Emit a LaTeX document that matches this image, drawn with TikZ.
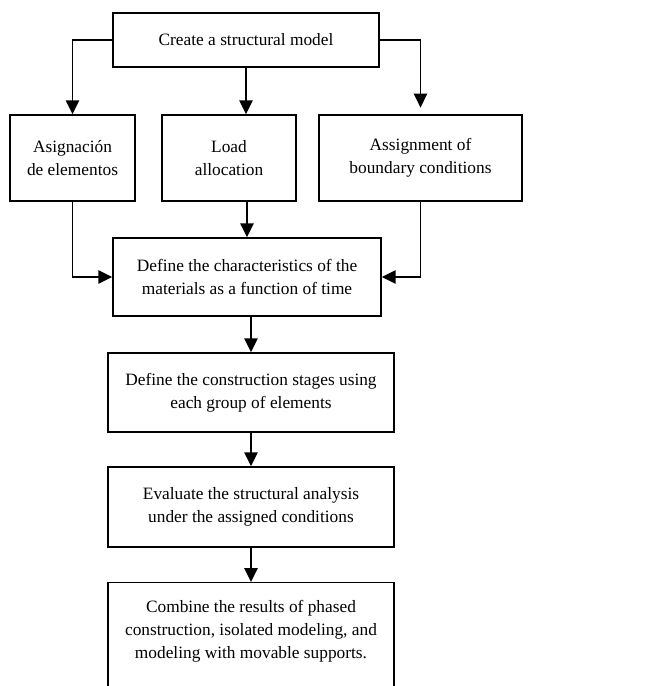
\documentclass[tikz,border=0pt]{standalone}
\usepackage{fontspec}
\setmainfont{Liberation Serif}
\usetikzlibrary{arrows.meta}
\tikzstyle{process} = [rectangle, draw=black, line width=1.1pt, align=center, inner sep=2pt, font=\fontsize{13}{17.5}\selectfont]
\tikzstyle{arrow} = [line width=1.4pt,-{Triangle[length=10.5pt,width=10pt]}]

\begin{document}
\begin{tikzpicture}[x=0.75pt,y=-0.75pt]
	\useasboundingbox (0,0) rectangle (645,686);
	\node[process, minimum width=199.5pt, minimum height=40.5pt] (model) at (246,40) {Create a structural model};
	\node[process, minimum width=93.75pt, minimum height=64.5pt] (elem) at (72.5,158) {Asignación\\de elementos};
	\node[process, minimum width=100.5pt, minimum height=64.5pt] (load) at (229,158) {Load\\allocation};
	\node[process, minimum width=152.25pt, minimum height=64.5pt] (bound) at (420.5,158) {Assignment of\\boundary conditions};
	\node[process, minimum width=201pt, minimum height=58.5pt] (mater) at (247,277) {Define the characteristics of the\\materials as a function of time};
	\node[process, minimum width=214.5pt, minimum height=59.25pt] (stages) at (251,392.5) {Define the construction stages using\\each group of elements};
	\node[process, minimum width=214.5pt, minimum height=60pt] (eval) at (251,507) {Evaluate the structural analysis\\under the assigned conditions};
	\node[process, minimum width=214.5pt, anchor=north, inner ysep=13pt, text depth=40pt] (comb) at (251,582) {Combine the results of phased\\construction, isolated modeling, and\\modeling with movable supports.};
	\draw[arrow] (model.west) -| (elem.north);
	\draw[arrow] (model.south) -- (model.south |- load.north);
	\draw[arrow, shorten >=5pt] (model.east) -| (bound.north);
	\draw[arrow] (mater.north |- load.south) -- (mater.north);
	\draw[arrow] (elem.south) |- (mater.west);
	\draw[arrow] (bound.south) |- (mater.east);
	\draw[arrow] (mater.south -| stages.north) -- (stages.north);
	\draw[arrow] (stages.south) -- (eval.north);
	\draw[arrow] (eval.south) -- (comb.north);
\end{tikzpicture}
\end{document}
